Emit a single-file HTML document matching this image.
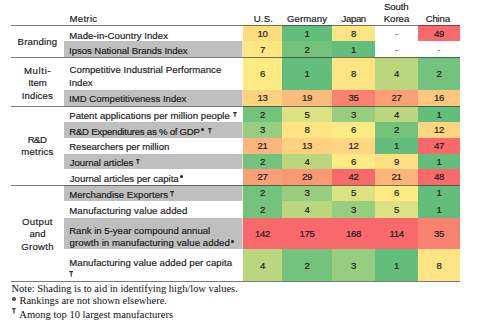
<!DOCTYPE html><html><head><meta charset="utf-8"><style>
html,body{margin:0;padding:0;background:#fff;}
body{width:480px;height:334px;position:relative;overflow:hidden;font-family:"Liberation Sans",sans-serif;font-size:9.6px;color:#1c1c1c;}
.b{position:absolute;}
.t{position:absolute;white-space:nowrap;line-height:14px;height:14px;-webkit-text-stroke:0.18px #1c1c1c;}
.n{position:absolute;white-space:nowrap;line-height:14px;height:14px;width:60px;text-align:center;letter-spacing:-0.35px;-webkit-text-stroke:0.18px #1c1c1c;}
.ln{position:absolute;height:1px;background:rgba(40,40,40,0.62);}
.f{position:absolute;white-space:nowrap;font-family:"Liberation Serif",serif;font-size:10.5px;line-height:14px;height:14px;color:#111;}
.st{position:absolute;font-size:6.5px;line-height:6px;-webkit-text-stroke:0.1px #1c1c1c;}
.as{position:absolute;background:#222;border-radius:50%;}
</style></head><body>

<div class="b" style="left:243px;top:25px;width:39px;height:16px;background:#fedd81"></div>
<div class="b" style="left:282px;top:25px;width:50px;height:16px;background:#63be7b"></div>
<div class="b" style="left:332px;top:25px;width:43px;height:16px;background:#ffe483"></div>
<div class="b" style="left:418px;top:25px;width:42px;height:16px;background:#f8696b"></div>
<div class="b" style="left:64px;top:41px;width:178px;height:16px;background:#bfbfbf"></div>
<div class="b" style="left:242px;top:41px;width:1px;height:16px;background:#dedede"></div>
<div class="b" style="left:243px;top:41px;width:39px;height:16px;background:#ffe783"></div>
<div class="b" style="left:282px;top:41px;width:50px;height:16px;background:#74c37c"></div>
<div class="b" style="left:332px;top:41px;width:43px;height:16px;background:#63be7b"></div>
<div class="b" style="left:243px;top:57px;width:39px;height:33px;background:#ffeb84"></div>
<div class="b" style="left:282px;top:57px;width:50px;height:33px;background:#63be7b"></div>
<div class="b" style="left:332px;top:57px;width:43px;height:33px;background:#ffe483"></div>
<div class="b" style="left:375px;top:57px;width:43px;height:33px;background:#bad780"></div>
<div class="b" style="left:418px;top:57px;width:42px;height:33px;background:#74c37c"></div>
<div class="b" style="left:64px;top:90px;width:178px;height:16px;background:#bfbfbf"></div>
<div class="b" style="left:242px;top:90px;width:1px;height:16px;background:#dedede"></div>
<div class="b" style="left:243px;top:90px;width:39px;height:16px;background:#fed27f"></div>
<div class="b" style="left:282px;top:90px;width:50px;height:16px;background:#fcbc7b"></div>
<div class="b" style="left:332px;top:90px;width:43px;height:16px;background:#f98270"></div>
<div class="b" style="left:375px;top:90px;width:43px;height:16px;background:#fb9f75"></div>
<div class="b" style="left:418px;top:90px;width:42px;height:16px;background:#fdc77d"></div>
<div class="b" style="left:243px;top:106px;width:39px;height:16px;background:#74c37c"></div>
<div class="b" style="left:282px;top:106px;width:50px;height:16px;background:#dce182"></div>
<div class="b" style="left:332px;top:106px;width:43px;height:16px;background:#97cd7e"></div>
<div class="b" style="left:375px;top:106px;width:43px;height:16px;background:#bad780"></div>
<div class="b" style="left:418px;top:106px;width:42px;height:16px;background:#63be7b"></div>
<div class="b" style="left:64px;top:122px;width:178px;height:16px;background:#bfbfbf"></div>
<div class="b" style="left:242px;top:122px;width:1px;height:16px;background:#dedede"></div>
<div class="b" style="left:243px;top:122px;width:39px;height:16px;background:#97cd7e"></div>
<div class="b" style="left:282px;top:122px;width:50px;height:16px;background:#ffe483"></div>
<div class="b" style="left:332px;top:122px;width:43px;height:16px;background:#ffeb84"></div>
<div class="b" style="left:375px;top:122px;width:43px;height:16px;background:#74c37c"></div>
<div class="b" style="left:418px;top:122px;width:42px;height:16px;background:#fed580"></div>
<div class="b" style="left:243px;top:138px;width:39px;height:16px;background:#fcb57a"></div>
<div class="b" style="left:282px;top:138px;width:50px;height:16px;background:#fed27f"></div>
<div class="b" style="left:332px;top:138px;width:43px;height:16px;background:#fed580"></div>
<div class="b" style="left:375px;top:138px;width:43px;height:16px;background:#63be7b"></div>
<div class="b" style="left:418px;top:138px;width:42px;height:16px;background:#f8696b"></div>
<div class="b" style="left:64px;top:154px;width:178px;height:15px;background:#bfbfbf"></div>
<div class="b" style="left:242px;top:154px;width:1px;height:15px;background:#dedede"></div>
<div class="b" style="left:243px;top:154px;width:39px;height:15px;background:#74c37c"></div>
<div class="b" style="left:282px;top:154px;width:50px;height:15px;background:#bad780"></div>
<div class="b" style="left:332px;top:154px;width:43px;height:15px;background:#ffeb84"></div>
<div class="b" style="left:375px;top:154px;width:43px;height:15px;background:#fee082"></div>
<div class="b" style="left:418px;top:154px;width:42px;height:15px;background:#63be7b"></div>
<div class="b" style="left:243px;top:169px;width:39px;height:16px;background:#fb9f75"></div>
<div class="b" style="left:282px;top:169px;width:50px;height:16px;background:#fb9874"></div>
<div class="b" style="left:332px;top:169px;width:43px;height:16px;background:#f8696b"></div>
<div class="b" style="left:375px;top:169px;width:43px;height:16px;background:#fcb57a"></div>
<div class="b" style="left:418px;top:169px;width:42px;height:16px;background:#f8696b"></div>
<div class="b" style="left:64px;top:185px;width:178px;height:16px;background:#bfbfbf"></div>
<div class="b" style="left:242px;top:185px;width:1px;height:16px;background:#dedede"></div>
<div class="b" style="left:243px;top:185px;width:39px;height:16px;background:#74c37c"></div>
<div class="b" style="left:282px;top:185px;width:50px;height:16px;background:#97cd7e"></div>
<div class="b" style="left:332px;top:185px;width:43px;height:16px;background:#dce182"></div>
<div class="b" style="left:375px;top:185px;width:43px;height:16px;background:#ffeb84"></div>
<div class="b" style="left:418px;top:185px;width:42px;height:16px;background:#63be7b"></div>
<div class="b" style="left:243px;top:201px;width:39px;height:17px;background:#74c37c"></div>
<div class="b" style="left:282px;top:201px;width:50px;height:17px;background:#bad780"></div>
<div class="b" style="left:332px;top:201px;width:43px;height:17px;background:#97cd7e"></div>
<div class="b" style="left:375px;top:201px;width:43px;height:17px;background:#dce182"></div>
<div class="b" style="left:418px;top:201px;width:42px;height:17px;background:#63be7b"></div>
<div class="b" style="left:64px;top:218px;width:178px;height:31px;background:#bfbfbf"></div>
<div class="b" style="left:242px;top:218px;width:1px;height:31px;background:#dedede"></div>
<div class="b" style="left:243px;top:218px;width:39px;height:31px;background:#f8696b"></div>
<div class="b" style="left:282px;top:218px;width:50px;height:31px;background:#f8696b"></div>
<div class="b" style="left:332px;top:218px;width:43px;height:31px;background:#f8696b"></div>
<div class="b" style="left:375px;top:218px;width:43px;height:31px;background:#f8696b"></div>
<div class="b" style="left:418px;top:218px;width:42px;height:31px;background:#f98270"></div>
<div class="b" style="left:243px;top:249px;width:39px;height:32px;background:#bad780"></div>
<div class="b" style="left:282px;top:249px;width:50px;height:32px;background:#74c37c"></div>
<div class="b" style="left:332px;top:249px;width:43px;height:32px;background:#97cd7e"></div>
<div class="b" style="left:375px;top:249px;width:43px;height:32px;background:#63be7b"></div>
<div class="b" style="left:418px;top:249px;width:42px;height:32px;background:#ffe483"></div>
<div class="ln" style="left:11px;top:25px;width:449px"></div>
<div class="ln" style="left:11px;top:57px;width:449px"></div>
<div class="ln" style="left:11px;top:106px;width:449px"></div>
<div class="ln" style="left:11px;top:185px;width:449px"></div>
<div class="ln" style="left:11px;top:281px;width:449px"></div>
<div class="t" style="top:12.27px;left:69.41px;letter-spacing:0.322px;">Metric</div>
<div class="t" style="top:28.57px;left:69.21px;letter-spacing:0.058px;">Made-in-Country Index</div>
<div class="t" style="top:44.37px;left:69.12px;letter-spacing:-0.057px;">Ipsos National Brands Index</div>
<div class="t" style="top:63.47px;left:69.51px;letter-spacing:0.060px;">Competitive Industrial Performance</div>
<div class="t" style="top:75.67px;left:69.12px;">Index</div>
<div class="t" style="top:91.97px;left:69.12px;">IMD Competitiveness Index</div>
<div class="t" style="top:109.37px;left:69.21px;letter-spacing:0.046px;">Patent applications per million people</div>
<div class="t" style="top:124.67px;left:69.21px;letter-spacing:-0.234px;">R&amp;D Expenditures as % of GDP</div>
<div class="t" style="top:140.07px;left:69.21px;letter-spacing:-0.031px;">Researchers per million</div>
<div class="t" style="top:155.87px;left:69.85px;letter-spacing:-0.071px;">Journal articles</div>
<div class="t" style="top:171.57px;left:69.85px;letter-spacing:-0.019px;">Journal articles per capita</div>
<div class="t" style="top:187.57px;left:69.21px;letter-spacing:0.006px;">Merchandise Exporters</div>
<div class="t" style="top:204.47px;left:69.21px;letter-spacing:0.100px;">Manufacturing value added</div>
<div class="t" style="top:223.67px;left:69.21px;letter-spacing:-0.013px;">Rank in 5-year compound annual</div>
<div class="t" style="top:235.87px;left:69.60px;letter-spacing:0.085px;">growth in manufacturing value added</div>
<div class="t" style="top:256.17px;left:69.21px;letter-spacing:0.064px;">Manufacturing value added per capita</div>
<div class="t" style="top:35.37px;left:17.61px;letter-spacing:0.169px;">Branding</div>
<div class="t" style="top:63.57px;left:23.91px;letter-spacing:0.650px;">Multi-</div>
<div class="t" style="top:75.67px;left:7.50px;width:60px;text-align:center;">Item</div>
<div class="t" style="top:88.67px;left:21.82px;letter-spacing:0.085px;">Indices</div>
<div class="t" style="top:132.57px;left:27.81px;letter-spacing:-0.610px;">R&amp;D</div>
<div class="t" style="top:145.17px;left:21.36px;letter-spacing:0.177px;">metrics</div>
<div class="t" style="top:214.67px;left:21.95px;letter-spacing:0.360px;">Output</div>
<div class="t" style="top:226.87px;left:7.50px;width:60px;text-align:center;">and</div>
<div class="t" style="top:239.87px;left:21.22px;letter-spacing:0.292px;">Growth</div>
<div class="t" style="top:12.27px;left:253.76px;letter-spacing:0.150px;">U.S.</div>
<div class="t" style="top:12.27px;left:287.02px;letter-spacing:0.087px;">Germany</div>
<div class="t" style="top:12.27px;left:341.55px;letter-spacing:-0.372px;">Japan</div>
<div class="t" style="top:-0.33px;left:384.06px;letter-spacing:-0.132px;">South</div>
<div class="t" style="top:12.27px;left:383.71px;letter-spacing:-0.007px;">Korea</div>
<div class="t" style="top:12.27px;left:425.71px;letter-spacing:-0.197px;">China</div>
<div class="n" style="left:232.50px;top:26.87px;">10</div>
<div class="n" style="left:277.00px;top:26.87px;">1</div>
<div class="n" style="left:323.50px;top:26.87px;">8</div>
<div class="n" style="left:366.50px;top:27.27px;color:#555;-webkit-text-stroke:0;font-size:8.5px;">-</div>
<div class="n" style="left:409.00px;top:26.87px;">49</div>
<div class="n" style="left:232.50px;top:42.87px;">7</div>
<div class="n" style="left:277.00px;top:42.87px;">2</div>
<div class="n" style="left:323.50px;top:42.87px;">1</div>
<div class="n" style="left:366.50px;top:43.27px;color:#555;-webkit-text-stroke:0;font-size:8.5px;">-</div>
<div class="n" style="left:409.00px;top:43.27px;color:#555;-webkit-text-stroke:0;font-size:8.5px;">-</div>
<div class="n" style="left:232.50px;top:67.07px;">6</div>
<div class="n" style="left:277.00px;top:67.07px;">1</div>
<div class="n" style="left:323.50px;top:67.07px;">8</div>
<div class="n" style="left:366.50px;top:67.07px;">4</div>
<div class="n" style="left:409.00px;top:67.07px;">2</div>
<div class="n" style="left:232.50px;top:91.37px;">13</div>
<div class="n" style="left:277.00px;top:91.37px;">19</div>
<div class="n" style="left:323.50px;top:91.37px;">35</div>
<div class="n" style="left:366.50px;top:91.37px;">27</div>
<div class="n" style="left:409.00px;top:91.37px;">16</div>
<div class="n" style="left:232.50px;top:108.37px;">2</div>
<div class="n" style="left:277.00px;top:108.37px;">5</div>
<div class="n" style="left:323.50px;top:108.37px;">3</div>
<div class="n" style="left:366.50px;top:108.37px;">4</div>
<div class="n" style="left:409.00px;top:108.37px;">1</div>
<div class="n" style="left:232.50px;top:123.27px;">3</div>
<div class="n" style="left:277.00px;top:123.27px;">8</div>
<div class="n" style="left:323.50px;top:123.27px;">6</div>
<div class="n" style="left:366.50px;top:123.27px;">2</div>
<div class="n" style="left:409.00px;top:123.27px;">12</div>
<div class="n" style="left:232.50px;top:138.87px;">21</div>
<div class="n" style="left:277.00px;top:138.87px;">13</div>
<div class="n" style="left:323.50px;top:138.87px;">12</div>
<div class="n" style="left:366.50px;top:138.87px;">1</div>
<div class="n" style="left:409.00px;top:138.87px;">47</div>
<div class="n" style="left:232.50px;top:154.97px;">2</div>
<div class="n" style="left:277.00px;top:154.97px;">4</div>
<div class="n" style="left:323.50px;top:154.97px;">6</div>
<div class="n" style="left:366.50px;top:154.97px;">9</div>
<div class="n" style="left:409.00px;top:154.97px;">1</div>
<div class="n" style="left:232.50px;top:170.37px;">27</div>
<div class="n" style="left:277.00px;top:170.37px;">29</div>
<div class="n" style="left:323.50px;top:170.37px;">42</div>
<div class="n" style="left:366.50px;top:170.37px;">21</div>
<div class="n" style="left:409.00px;top:170.37px;">48</div>
<div class="n" style="left:232.50px;top:186.37px;">2</div>
<div class="n" style="left:277.00px;top:186.37px;">3</div>
<div class="n" style="left:323.50px;top:186.37px;">5</div>
<div class="n" style="left:366.50px;top:186.37px;">6</div>
<div class="n" style="left:409.00px;top:186.37px;">1</div>
<div class="n" style="left:232.50px;top:202.77px;">2</div>
<div class="n" style="left:277.00px;top:202.77px;">4</div>
<div class="n" style="left:323.50px;top:202.77px;">3</div>
<div class="n" style="left:366.50px;top:202.77px;">5</div>
<div class="n" style="left:409.00px;top:202.77px;">1</div>
<div class="n" style="left:232.50px;top:227.27px;">142</div>
<div class="n" style="left:277.00px;top:227.27px;">175</div>
<div class="n" style="left:323.50px;top:227.27px;">168</div>
<div class="n" style="left:366.50px;top:227.27px;">114</div>
<div class="n" style="left:409.00px;top:227.27px;">35</div>
<div class="n" style="left:232.50px;top:258.87px;">4</div>
<div class="n" style="left:277.00px;top:258.87px;">2</div>
<div class="n" style="left:323.50px;top:258.87px;">3</div>
<div class="n" style="left:366.50px;top:258.87px;">1</div>
<div class="n" style="left:409.00px;top:258.87px;">8</div>
<svg class="b" style="left:233.10px;top:112.00px;overflow:visible" width="4.00" height="5.00"><path d="M0.2 0.65H3.80" stroke="#2a2a2a" stroke-width="1.3" fill="none"/><path d="M2.00 0.5V5.00" stroke="#2a2a2a" stroke-width="1.00" fill="none"/><path d="M1.00 2.75H3.00" stroke="#2a2a2a" stroke-width="0.6" stroke-opacity="0.5" fill="none"/></svg>
<svg class="b" style="left:207.50px;top:127.50px;overflow:visible" width="3.80" height="5.20"><path d="M0.2 0.65H3.60" stroke="#2a2a2a" stroke-width="1.3" fill="none"/><path d="M1.90 0.5V5.20" stroke="#2a2a2a" stroke-width="1.00" fill="none"/><path d="M0.95 2.86H2.85" stroke="#2a2a2a" stroke-width="0.6" stroke-opacity="0.5" fill="none"/></svg>
<svg class="b" style="left:135.50px;top:158.90px;overflow:visible" width="3.80" height="5.00"><path d="M0.2 0.65H3.60" stroke="#2a2a2a" stroke-width="1.3" fill="none"/><path d="M1.90 0.5V5.00" stroke="#2a2a2a" stroke-width="1.00" fill="none"/><path d="M0.95 2.75H2.85" stroke="#2a2a2a" stroke-width="0.6" stroke-opacity="0.5" fill="none"/></svg>
<svg class="b" style="left:170.00px;top:190.60px;overflow:visible" width="4.20" height="5.40"><path d="M0.2 0.65H4.00" stroke="#2a2a2a" stroke-width="1.3" fill="none"/><path d="M2.10 0.5V5.40" stroke="#2a2a2a" stroke-width="1.00" fill="none"/><path d="M1.05 2.97H3.15" stroke="#2a2a2a" stroke-width="0.6" stroke-opacity="0.5" fill="none"/></svg>
<svg class="b" style="left:69.20px;top:271.10px;overflow:visible" width="4.30" height="5.80"><path d="M0.2 0.65H4.10" stroke="#2a2a2a" stroke-width="1.3" fill="none"/><path d="M2.15 0.5V5.80" stroke="#2a2a2a" stroke-width="1.00" fill="none"/><path d="M1.07 3.19H3.22" stroke="#2a2a2a" stroke-width="0.6" stroke-opacity="0.5" fill="none"/></svg>
<div class="as" style="left:201.10px;top:127.90px;width:3.2px;height:3.2px"></div>
<div class="as" style="left:179.50px;top:175.10px;width:3.2px;height:3.2px"></div>
<div class="as" style="left:230.70px;top:239.90px;width:3.2px;height:3.2px"></div>
<div class="f" style="top:282.26px;left:11.49px;letter-spacing:-0.027px;">Note: Shading is to aid in identifying high/low values.</div>
<div class="f" style="top:294.46px;left:19.49px;letter-spacing:-0.032px;">Rankings are not shown elsewhere.</div>
<div class="f" style="top:307.96px;left:19.30px;">Among top 10 largest manufacturers</div>
<div class="as" style="left:12.2px;top:297.4px;width:3.4px;height:3.4px;background:#555"></div>
<svg class="b" style="left:12.20px;top:307.90px;overflow:visible" width="3.80" height="5.50"><path d="M0.2 0.65H3.60" stroke="#333" stroke-width="1.3" fill="none"/><path d="M1.90 0.5V5.50" stroke="#333" stroke-width="1.10" fill="none"/><path d="M0.95 3.03H2.85" stroke="#333" stroke-width="0.6" stroke-opacity="0.5" fill="none"/></svg>
</body></html>
